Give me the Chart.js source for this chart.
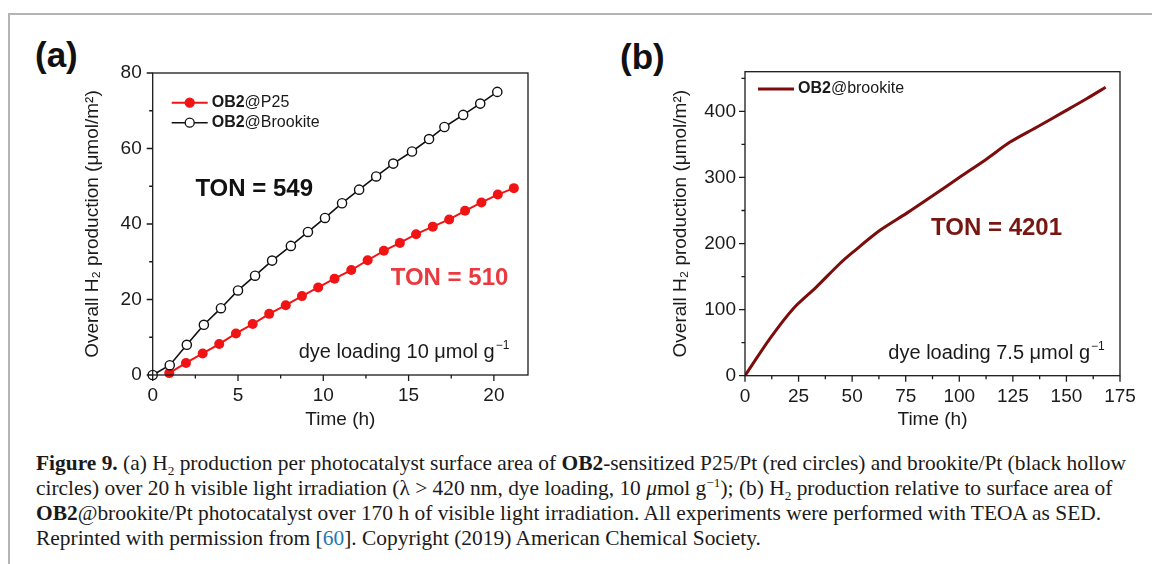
<!DOCTYPE html>
<html>
<head>
<meta charset="utf-8">
<script src="https://cdn.jsdelivr.net/npm/chart.js@4.4.1/dist/chart.umd.min.js"></script>
<style>
  html, body { margin: 0; padding: 0; background: #fff; }
  body { width: 1152px; height: 564px; position: relative; overflow: hidden; }
  #frame { position: absolute; left: 8px; top: 13px; right: -4px; bottom: -4px; border-left: 2px solid #b4b4b4; border-top: 2px solid #b4b4b4; }
  .box { position: absolute; top: 20px; width: 540px; height: 420px; }
  #boxA { left: 20px; }
  #boxB { left: 600px; }
  .panel { position: absolute; font-family: "Liberation Sans", Arial, sans-serif; font-weight: bold; font-size: 35px; color: #111; }
  #caption { position: absolute; left: 36px; top: 451px; font-family: "Liberation Serif", "DejaVu Serif", serif; font-size: 21px; line-height: 25px; color: #1a1a1a; white-space: nowrap; transform-origin: 0 0; }
  #caption sub, #caption sup { font-size: 13px; line-height: 0; }
  #caption .ref { color: #1f78b4; }
</style>
</head>
<body>
<div id="frame"></div>
<div class="panel" style="left:35px; top:35px;">(a)</div>
<div class="panel" style="left:620px; top:37px;">(b)</div>
<div class="box" id="boxA"><canvas id="chartA"></canvas></div>
<div class="box" id="boxB"><canvas id="chartB"></canvas></div>
<div id="caption">
<b>Figure 9.</b> (a) H<sub>2</sub> production per photocatalyst surface area of <b>OB2</b>-sensitized P25/Pt (red circles) and brookite/Pt (black hollow<br>
circles) over 20 h visible light irradiation (λ &gt; 420 nm, dye loading, 10 <i>μ</i>mol g<sup>−1</sup>); (b) H<sub>2</sub> production relative to surface area of<br>
<b>OB2</b>@brookite/Pt photocatalyst over 170 h of visible light irradiation. All experiments were performed with TEOA as SED.<br>
Reprinted with permission from [<span class="ref">60</span>]. Copyright (2019) American Chemical Society.
</div>
<script>
// (a) 20 h runs
var timeP25 = [0.97, 1.95, 2.93, 3.9, 4.88, 5.86, 6.83, 7.8, 8.75, 9.7, 10.66, 11.64, 12.6, 13.55, 14.49, 15.44, 16.42, 17.38, 18.31, 19.27, 20.23, 21.17];
var h2P25 = [0.5, 3.2, 5.7, 8.2, 11.0, 13.5, 16.2, 18.5, 20.9, 23.2, 25.5, 27.8, 30.4, 32.9, 35.0, 37.3, 39.3, 41.2, 43.5, 45.7, 47.8, 49.5];
var timeBrookite = [0, 1, 2, 3, 4, 5, 6, 7, 8.1, 9.1, 10.1, 11.1, 12.1, 13.1, 14.1, 15.2, 16.2, 17.1, 18.2, 19.2, 20.2];
var h2Brookite = [0, 2.6, 8.0, 13.3, 17.7, 22.4, 26.3, 30.3, 34.2, 37.9, 41.6, 45.5, 49.1, 52.6, 56.0, 59.2, 62.5, 65.7, 68.9, 71.9, 75.0];
var ticksA_x = [0, 5, 10, 15, 20];
var ticksA_y = [0, 20, 40, 60, 80];

// (b) 170 h run
var timeLong = [0, 11.7, 22.6, 33.4, 44.3, 50.5, 63, 75.5, 87.9, 100.3, 112.8, 123.7, 136.1, 148.5, 159.4, 168.3];
var h2Long = [0, 56.5, 101.8, 134.5, 169.8, 187.3, 220, 246, 273, 300.6, 328, 353.5, 376, 398.8, 419, 436.5];
var ticksB_x = [0, 25, 50, 75, 100, 125, 150, 175];
var ticksB_y = [0, 100, 200, 300, 400];

function pts(xs, ys) {
    return xs.map(function (x, i) { return { x: x, y: ys[i] }; });
}

var FONT = "'Liberation Sans', Arial, sans-serif";
var yTitle = "Overall H\u2082 production (\u03bcmol/m\u00b2)";

// box + major/minor ticks
var frameTicks = {
    id: "frameTicks",
    afterDraw: function (chart, args, opts) {
        var c = chart.ctx, a = chart.chartArea;
        var sx = chart.scales.x, sy = chart.scales.y;
        c.save();
        c.strokeStyle = "#1a1a1a";
        c.lineWidth = 1.3;
        c.strokeRect(a.left, a.top, a.right - a.left, a.bottom - a.top);
        c.beginPath();
        for (var v = sx.min; v <= sx.max + 1e-9; v += opts.xMinor) {
            var px = sx.getPixelForValue(v);
            var len = Math.abs(v / opts.xMajor - Math.round(v / opts.xMajor)) < 1e-6 ? 6 : 3.5;
            c.moveTo(px, a.bottom);
            c.lineTo(px, a.bottom + len);
        }
        for (var w = sy.min; w <= sy.max + 1e-9; w += opts.yMinor) {
            var py = sy.getPixelForValue(w);
            var len2 = Math.abs(w / opts.yMajor - Math.round(w / opts.yMajor)) < 1e-6 ? 6 : 3.5;
            c.moveTo(a.left, py);
            c.lineTo(a.left - len2, py);
        }
        c.stroke();
        c.restore();
    }
};

// legend rows with "OB2" in bold, and text notes placed in data units
var notes = {
    id: "notes",
    afterDatasetsDraw: function (chart, args, opts) {
        var c = chart.ctx, a = chart.chartArea;
        var sx = chart.scales.x, sy = chart.scales.y;
        c.save();
        (opts.legend || []).forEach(function (row) {
            var y = a.top + row.dy;
            var x0 = a.left + row.dx;
            c.strokeStyle = row.color;
            c.lineWidth = row.lw;
            c.beginPath();
            c.moveTo(x0, y);
            c.lineTo(x0 + 36, y);
            c.stroke();
            if (row.marker) {
                c.beginPath();
                c.arc(x0 + 18, y, 4.5, 0, Math.PI * 2);
                c.fillStyle = row.marker;
                c.fill();
                c.lineWidth = 1.3;
                c.stroke();
            }
            c.textBaseline = "middle";
            c.textAlign = "left";
            c.fillStyle = "#1a1a1a";
            c.font = "bold 16px " + FONT;
            c.fillText("OB2", x0 + 40, y);
            var w = c.measureText("OB2").width;
            c.font = "16px " + FONT;
            c.fillText(row.rest, x0 + 40 + w, y);
        });
        (opts.texts || []).forEach(function (t) {
            c.font = t.font;
            c.fillStyle = t.color;
            c.textAlign = t.align;
            c.textBaseline = "middle";
            var px = sx.getPixelForValue(t.x), py = sy.getPixelForValue(t.y);
            c.fillText(t.text, px, py);
            if (t.sup) {
                var tw = c.measureText(t.text).width;
                var sx0 = t.align === "right" ? px - tw : (t.align === "center" ? px - tw / 2 : px);
                c.font = "12px " + FONT;
                c.textAlign = "left";
                c.fillText(t.sup, sx0 + tw + 1, py - 7);
            }
        });
        c.restore();
    }
};

function fixedScale(size, vertical) {
    return function (scale) {
        if (vertical) {
            scale.width = size;
            scale.paddingTop = 0;
            scale.paddingBottom = 0;
        } else {
            scale.height = size;
            scale.paddingLeft = 0;
            scale.paddingRight = 0;
        }
    };
}

function axisOpts(min, max, step, list, title, vertical, size, pad, titlePad) {
    return {
        type: "linear",
        min: min,
        max: max,
        afterFit: fixedScale(size, vertical),
        afterBuildTicks: function (scale) {
            scale.ticks = list.map(function (v) { return { value: v }; });
        },
        grid: { display: false, drawTicks: false },
        border: { display: false },
        ticks: {
            stepSize: step,
            includeBounds: false,
            padding: pad,
            color: "#1a1a1a",
            font: { family: FONT, size: 19 }
        },
        title: {
            display: true,
            text: title,
            color: "#1a1a1a",
            padding: titlePad,
            font: { family: FONT, size: 19 }
        }
    };
}

Chart.defaults.animation = false;
Chart.defaults.responsive = true;
Chart.defaults.maintainAspectRatio = false;

var ctxA = document.getElementById("chartA").getContext("2d");
var chartA = new Chart(ctxA, {
    type: "scatter",
    data: {
        datasets: [{
            label: "OB2@Brookite",
            data: pts(timeBrookite, h2Brookite),
            showLine: true,
            borderColor: "#111",
            borderWidth: 1.6,
            pointRadius: 4.6,
            pointBorderWidth: 1.4,
            pointBackgroundColor: "#fff",
            pointBorderColor: "#111",
            clip: false
        }, {
            label: "OB2@P25",
            data: pts(timeP25, h2P25),
            showLine: true,
            borderColor: "#f01414",
            borderWidth: 2,
            pointRadius: 5,
            pointBorderWidth: 0,
            pointBackgroundColor: "#f01414",
            clip: false
        }]
    },
    options: {
        layout: { padding: { left: 61, top: 53, right: 32, bottom: 0 } },
        plugins: {
            legend: { display: false },
            tooltip: { enabled: false },
            frameTicks: { xMajor: 5, xMinor: 2.5, yMajor: 20, yMinor: 10 },
            notes: {
                legend: [
                    { dx: 19, dy: 29.7, color: "#f01414", lw: 2, marker: "#f01414", rest: "@P25" },
                    { dx: 19, dy: 49.7, color: "#111", lw: 1.6, marker: "#fff", rest: "@Brookite" }
                ],
                texts: [
                    { text: "TON = 549", x: 5.95, y: 49.2, color: "#111", align: "center", font: "bold 24px " + FONT },
                    { text: "TON = 510", x: 17.4, y: 25.7, color: "#ea3a40", align: "center", font: "bold 24px " + FONT },
                    { text: "dye loading 10 \u03bcmol g", sup: "\u22121", x: 20.05, y: 6.0, color: "#1a1a1a", align: "right", font: "20px " + FONT }
                ]
            }
        },
        scales: {
            x: axisOpts(0, 22, 5, ticksA_x, "Time (h)", false, 65, 9.5, { top: 0, bottom: 8.6 }),
            y: axisOpts(0, 80, 20, ticksA_y, yTitle, true, 71.7, 11, { top: 0, bottom: 0 })
        }
    },
    plugins: [frameTicks, notes]
});

var ctxB = document.getElementById("chartB").getContext("2d");
var chartB = new Chart(ctxB, {
    type: "scatter",
    data: {
        datasets: [{
            label: "OB2@brookite",
            data: pts(timeLong, h2Long),
            showLine: true,
            borderColor: "#7d0c0c",
            borderWidth: 3,
            pointRadius: 0,
            tension: 0.3
        }]
    },
    options: {
        layout: { padding: { left: 69.6, top: 51.7, right: 20, bottom: 0 } },
        plugins: {
            legend: { display: false },
            tooltip: { enabled: false },
            frameTicks: { xMajor: 25, xMinor: 12.5, yMajor: 100, yMinor: 50 },
            notes: {
                legend: [
                    { dx: 13, dy: 17.3, color: "#7d0c0c", lw: 3, marker: null, rest: "@brookite" }
                ],
                texts: [
                    { text: "TON = 4201", x: 117.4, y: 223, color: "#781612", align: "center", font: "bold 24px " + FONT },
                    { text: "dye loading 7.5 \u03bcmol g", sup: "\u22121", x: 161, y: 34, color: "#1a1a1a", align: "right", font: "20px " + FONT }
                ]
            }
        },
        scales: {
            x: axisOpts(0, 175, 25, ticksB_x, "Time (h)", false, 64.3, 9.5, { top: 0, bottom: 8.6 }),
            y: axisOpts(0, 460, 100, ticksB_y, yTitle, true, 75.4, 9, { top: 0, bottom: 0 })
        }
    },
    plugins: [frameTicks, notes]
});

// stretch caption lines to the width they have in the figure
var cap = document.getElementById("caption");
var capW = cap.getBoundingClientRect().width;
cap.style.transform = "scaleX(" + (1090 / capW) + ")";
</script>
</body>
</html>
